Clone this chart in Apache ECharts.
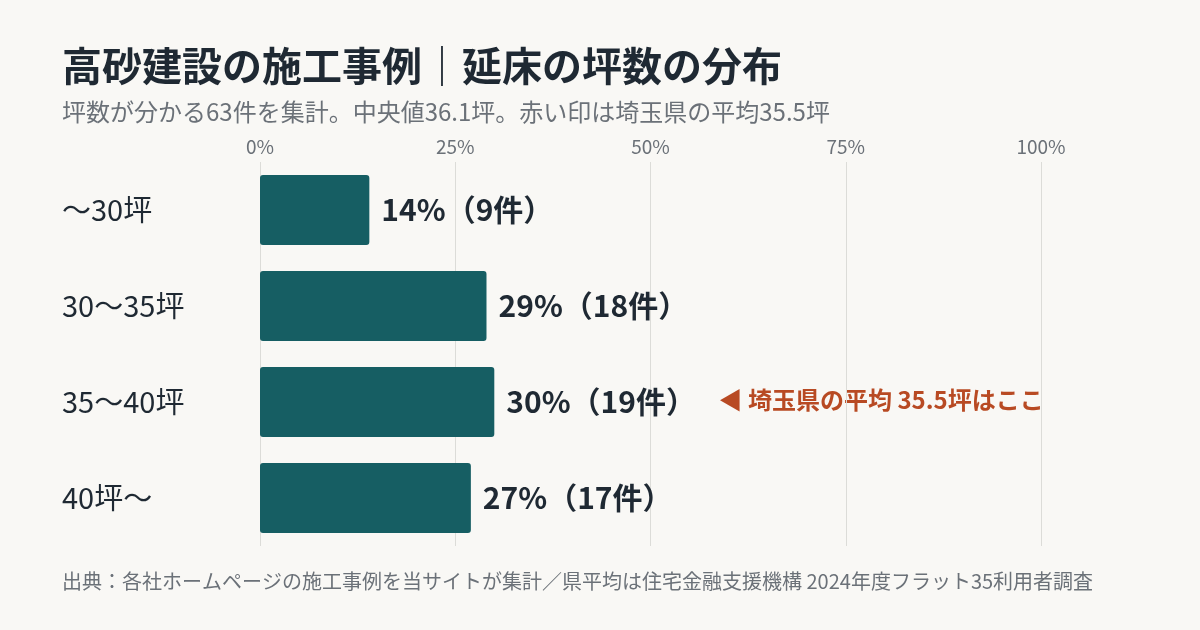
<!DOCTYPE html>
<html>
<head>
<meta charset="utf-8">
<script src="https://cdn.jsdelivr.net/npm/echarts@6/dist/echarts.min.js"></script>
<style>
html,body{margin:0;padding:0;background:#f9f8f5;}
#c{width:1200px;height:630px;}
</style>
</head>
<body>
<div id="c"></div>
<script>
const categories = ['～30坪', '30～35坪', '35～40坪', '40坪～'];
const shares = [14, 29, 30, 27];
const counts = [9, 18, 19, 17];
const axisTicks = [0, 25, 50, 75, 100];

const FONT = '"Noto Sans CJK JP", "Noto Sans", sans-serif';
const chart = echarts.init(document.getElementById('c'));
chart.setOption({
  backgroundColor: '#f9f8f5',
  textStyle: { fontFamily: FONT },
  title: [
    { text: '高砂建設の施工事例｜延床の坪数の分布', left: 62, top: 46, padding: 0,
      textStyle: { fontFamily: FONT, fontSize: 40, fontWeight: 'bold', color: '#1f2933' } },
    { text: '坪数が分かる63件を集計。中央値36.1坪。赤い印は埼玉県の平均35.5坪', left: 62, top: 100, padding: 0,
      textStyle: { fontFamily: FONT, fontSize: 24, fontWeight: 'normal', color: '#6b7178' } },
    { text: '出典：各社ホームページの施工事例を当サイトが集計／県平均は住宅金融支援機構 2024年度フラット35利用者調査', left: 62, top: 571, padding: 0,
      textStyle: { fontFamily: FONT, fontSize: 20, fontWeight: 'normal', color: '#6b7178' } }
  ],
  grid: { left: 260, right: 159, top: 162, bottom: 84 },
  xAxis: {
    type: 'value', position: 'top', min: 0, max: 100, interval: 25,
    axisLine: { show: false }, axisTick: { show: false },
    splitLine: { show: true, lineStyle: { color: '#dcdcd8', width: 1 } },
    axisLabel: { formatter: v => axisTicks.includes(v) ? v + '%' : '', fontFamily: FONT, fontSize: 19, color: '#6b7178', margin: 6 }
  },
  yAxis: {
    type: 'category', data: categories, inverse: true,
    axisLine: { show: false }, axisTick: { show: false },
    axisLabel: { align: 'left', margin: 198, fontFamily: FONT, fontSize: 29, color: '#1f2933' }
  },
  series: [{
    type: 'bar', data: shares, barWidth: 70,
    itemStyle: { color: '#165e63', borderRadius: 3 },
    label: {
      show: true, position: 'right', distance: 12,
      formatter: p => p.value + '%（' + counts[p.dataIndex] + '件）',
      fontFamily: FONT, fontSize: 30, fontWeight: 'bold', color: '#1f2933'
    },
    silent: true
  }],
  graphic: [{
    type: 'text', left: 717, top: 386,
    style: {
      text: '◀ 埼玉県の平均 35.5坪はここ',
      font: 'bold 24px ' + FONT, fill: '#b84a23',
      stroke: '#f9f8f5', lineWidth: 3
    }
  }]
});
</script>
</body>
</html>
